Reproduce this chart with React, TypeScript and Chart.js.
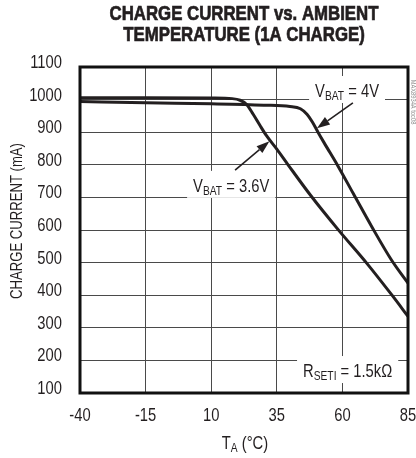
import React, { useEffect, useRef } from "react";
import { Chart, registerables } from "chart.js";

Chart.register(...registerables);

const FONT = "'Liberation Sans', Arial, sans-serif";
const NARROW = 0.82; // Arial Narrow ≈ Arial compressed horizontally
const INK = "#231f20";

// ---- data ----
const titleLines = ["CHARGE CURRENT vs. AMBIENT", "TEMPERATURE (1A CHARGE)"];
const xTicks = [-40, -15, 10, 35, 60, 85];
const yTicks = [100, 200, 300, 400, 500, 600, 700, 800, 900, 1000, 1100];

const temp36 = [-40, -15, 10, 18, 21, 23.5, 26, 28.5, 31, 35, 39.3, 48, 58.3, 69.4, 78.9, 85];
const current36 = [1006, 1006, 1005, 1003, 998, 985, 955, 922, 890, 848, 800, 705, 602, 497, 400, 335];

const temp4 = [-40, -15, 10, 30, 40, 44, 46.5, 48.5, 50.7, 53, 58.4, 64.2, 71.2, 78.7, 85];
const current4 = [994, 990, 987, 983, 979, 972, 955, 932, 900, 868, 795, 711, 610, 508, 437];

const yAxisTitle = "CHARGE CURRENT (mA)";
const xAxisTitle = { main: "T", sub: "A", rest: " (°C)" };
const sideCode = "MAX8934A toc08";

// annotation anchors in data units (temperature, current)
const noteLabels = [
  { main: "V", sub: "BAT", rest: " = 4V", t: 49.6, v: 1008 },
  { main: "V", sub: "BAT", rest: " = 3.6V", t: 3.1, v: 717 },
  { main: "R", sub: "SETI", rest: " = 1.5kΩ", t: 45, v: 149 },
];
const noteArrows = [
  { t0: 64.0, v0: 990, t1: 50.3, v1: 912 },
  { t0: 19.1, v0: 784, t1: 32.2, v1: 872 },
];

function narrowText(
  ctx: CanvasRenderingContext2D,
  text: string,
  x: number,
  y: number,
  font: string,
  align: CanvasTextAlign,
  baseline: CanvasTextBaseline,
  rotate = 0,
  stroke = 0
) {
  ctx.save();
  ctx.font = font;
  ctx.textAlign = align;
  ctx.textBaseline = baseline;
  ctx.translate(x, y);
  if (rotate) ctx.rotate(rotate);
  ctx.scale(NARROW, 1);
  ctx.fillText(text, 0, 0);
  if (stroke) {
    ctx.lineWidth = stroke;
    ctx.strokeStyle = ctx.fillStyle as string;
    ctx.strokeText(text, 0, 0);
  }
  ctx.restore();
}

function subTextWidth(ctx: CanvasRenderingContext2D, main: string, sub: string, rest: string, size: number, subSize: number) {
  ctx.save();
  ctx.font = `${size}px ${FONT}`;
  const w1 = ctx.measureText(main).width;
  ctx.font = `${subSize}px ${FONT}`;
  const w2 = ctx.measureText(sub).width;
  ctx.font = `${size}px ${FONT}`;
  const w3 = ctx.measureText(rest).width;
  ctx.restore();
  return { w1, w2, w3, total: (w1 + w2 + w3) * NARROW };
}

function drawSubText(
  ctx: CanvasRenderingContext2D,
  x: number,
  y: number,
  main: string,
  sub: string,
  rest: string,
  size: number,
  subSize: number,
  drop: number
) {
  const m = subTextWidth(ctx, main, sub, rest, size, subSize);
  ctx.save();
  ctx.textAlign = "left";
  ctx.textBaseline = "alphabetic";
  ctx.translate(x, y);
  ctx.scale(NARROW, 1);
  ctx.font = `${size}px ${FONT}`;
  ctx.fillText(main, 0, 0);
  ctx.font = `${subSize}px ${FONT}`;
  ctx.fillText(sub, m.w1, drop);
  ctx.font = `${size}px ${FONT}`;
  ctx.fillText(rest, m.w1 + m.w2, 0);
  ctx.restore();
  return m.total;
}

const decorPlugin = {
  id: "decor",
  beforeDatasetsDraw(chart: any) {
    const ctx: CanvasRenderingContext2D = chart.ctx;
    const xs = chart.scales.x;
    const ys = chart.scales.y;
    ctx.save();
    for (const n of noteLabels) {
      const px = xs.getPixelForValue(n.t);
      const py = ys.getPixelForValue(n.v);
      const w = subTextWidth(ctx, n.main, n.sub, n.rest, 18, 12.5).total;
      ctx.fillStyle = "#ffffff";
      ctx.fillRect(px - 6, py - 21, w + 12, 27);
      ctx.fillStyle = INK;
      drawSubText(ctx, px, py, n.main, n.sub, n.rest, 18, 12.5, 3);
    }
    ctx.restore();
  },
  afterDatasetsDraw(chart: any) {
    const ctx: CanvasRenderingContext2D = chart.ctx;
    const xs = chart.scales.x;
    const ys = chart.scales.y;
    const a = chart.chartArea;
    ctx.save();
    // arrows
    ctx.strokeStyle = INK;
    ctx.fillStyle = INK;
    for (const ar of noteArrows) {
      const x0 = xs.getPixelForValue(ar.t0);
      const y0 = ys.getPixelForValue(ar.v0);
      const x1 = xs.getPixelForValue(ar.t1);
      const y1 = ys.getPixelForValue(ar.v1);
      const ang = Math.atan2(y1 - y0, x1 - x0);
      const len = 13;
      const hw = 4.5;
      const bx = x1 - len * Math.cos(ang);
      const by = y1 - len * Math.sin(ang);
      ctx.lineWidth = 1.6;
      ctx.beginPath();
      ctx.moveTo(x0, y0);
      ctx.lineTo(bx, by);
      ctx.stroke();
      ctx.beginPath();
      ctx.moveTo(x1, y1);
      ctx.lineTo(bx + hw * Math.sin(ang), by - hw * Math.cos(ang));
      ctx.lineTo(bx - hw * Math.sin(ang), by + hw * Math.cos(ang));
      ctx.closePath();
      ctx.fill();
    }
    // frame
    ctx.lineWidth = 3;
    ctx.strokeStyle = "#111";
    ctx.strokeRect(a.left, a.top, a.right - a.left, a.bottom - a.top);

    ctx.fillStyle = INK;
    // title
    const cx = (a.left + a.right) / 2;
    titleLines.forEach((line, i) => {
      narrowText(ctx, line, cx, 14 + i * 21, `bold 20.5px ${FONT}`, "center", "middle", 0, 0.7);
    });
    // tick labels
    for (const t of xs.ticks) {
      narrowText(ctx, String(t.value), xs.getPixelForValue(t.value), a.bottom + 23.5, `18px ${FONT}`, "center", "middle");
    }
    for (const t of ys.ticks) {
      narrowText(ctx, String(t.value), a.left - 18, ys.getPixelForValue(t.value) - 4, `18px ${FONT}`, "right", "middle");
    }
    // y axis title
    narrowText(ctx, yAxisTitle, 18, (a.top + a.bottom) / 2 - 9, `16px ${FONT}`, "center", "middle", -Math.PI / 2);
    // x axis title
    const w = subTextWidth(ctx, xAxisTitle.main, xAxisTitle.sub, xAxisTitle.rest, 18, 12.5).total;
    drawSubText(ctx, cx + 1 - w / 2, a.bottom + 56, xAxisTitle.main, xAxisTitle.sub, xAxisTitle.rest, 18, 12.5, 3);
    // side code
    ctx.fillStyle = "#8a8a8a";
    narrowText(ctx, sideCode, a.right + 4.5, a.top + 35, `7px ${FONT}`, "center", "middle", Math.PI / 2);
    ctx.restore();
  },
};

export default function App() {
  const ref = useRef<HTMLCanvasElement | null>(null);

  useEffect(() => {
    if (!ref.current) return;
    const chart = new Chart(ref.current, {
      type: "line",
      data: {
        datasets: [
          {
            label: "VBAT = 3.6V",
            data: temp36.map((t, i) => ({ x: t, y: current36[i] })),
            borderColor: INK,
            borderWidth: 3,
            pointRadius: 0,
            cubicInterpolationMode: "monotone",
            fill: false,
          },
          {
            label: "VBAT = 4V",
            data: temp4.map((t, i) => ({ x: t, y: current4[i] })),
            borderColor: INK,
            borderWidth: 3,
            pointRadius: 0,
            cubicInterpolationMode: "monotone",
            fill: false,
          },
        ],
      },
      options: {
        animation: false,
        responsive: false,
        devicePixelRatio: 1,
        layout: { padding: { top: 67, left: 0, right: 8, bottom: 0 } },
        plugins: {
          legend: { display: false },
          tooltip: { enabled: false },
          title: { display: false },
        },
        scales: {
          x: {
            type: "linear",
            min: xTicks[0],
            max: xTicks[xTicks.length - 1],
            afterBuildTicks: (s: any) => {
              s.ticks = xTicks.map((v) => ({ value: v }));
            },
            afterFit: (s: any) => {
              s.height = 65;
              s.paddingLeft = 0;
              s.paddingRight = 0;
            },
            grid: { color: "#4a4a4a", lineWidth: 1, drawTicks: false },
            border: { display: false },
            ticks: { display: false },
          },
          y: {
            type: "linear",
            min: yTicks[0],
            max: yTicks[yTicks.length - 1],
            afterBuildTicks: (s: any) => {
              s.ticks = yTicks.map((v) => ({ value: v }));
            },
            afterFit: (s: any) => {
              s.width = 80;
              s.paddingTop = 0;
              s.paddingBottom = 0;
            },
            grid: { color: "#4a4a4a", lineWidth: 1, drawTicks: false },
            border: { display: false },
            ticks: { display: false },
          },
        },
      },
      plugins: [decorPlugin],
    } as any);
    return () => chart.destroy();
  }, []);

  return (
    <div style={{ position: "absolute", left: 0, top: 0, width: 416, height: 458, background: "#fff" }}>
      <canvas ref={ref} width={416} height={458} style={{ display: "block" }} />
    </div>
  );
}
